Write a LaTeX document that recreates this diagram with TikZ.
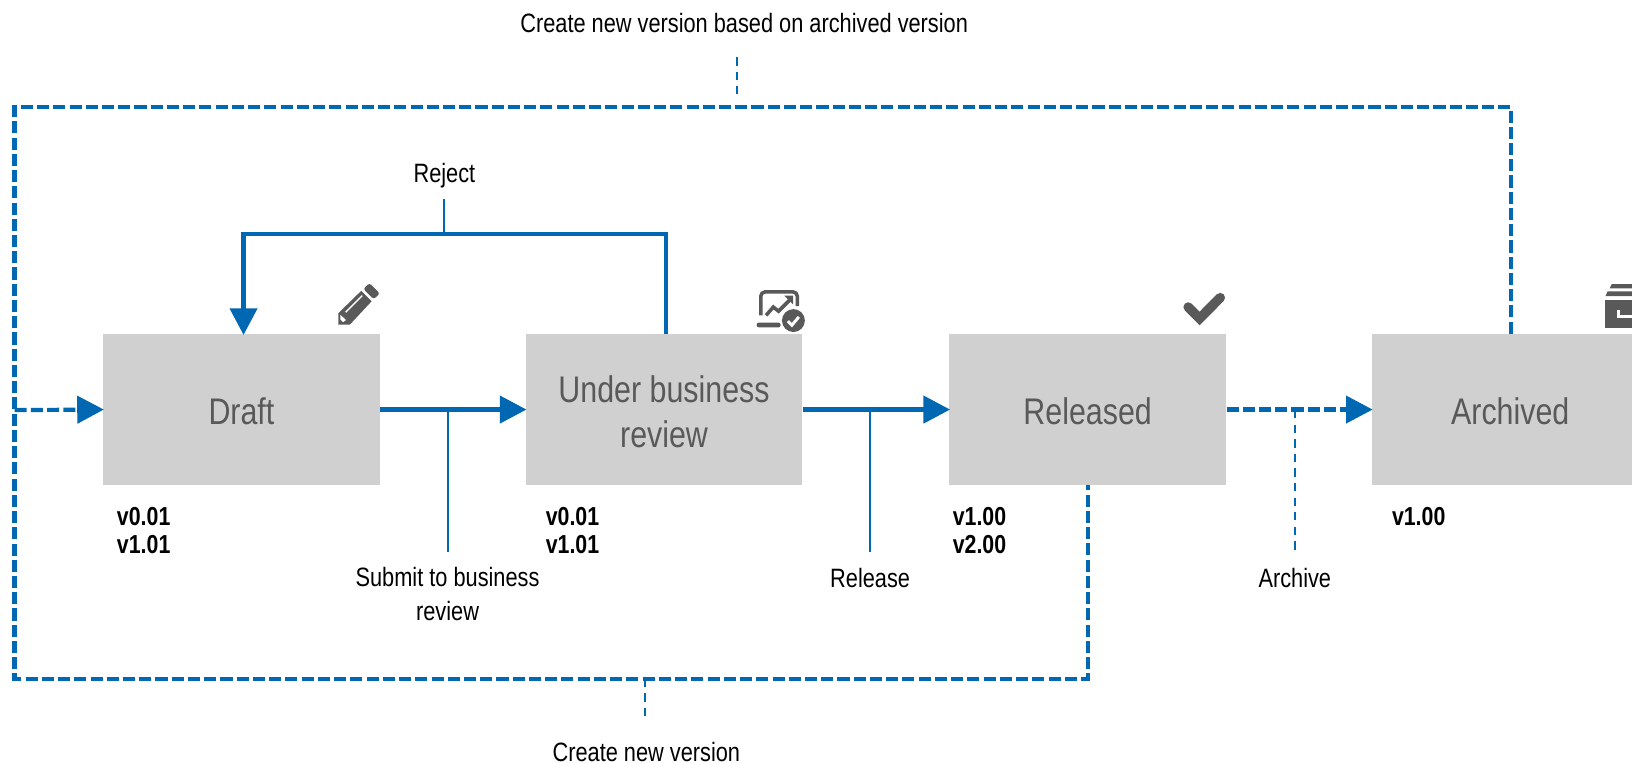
\documentclass[tikz,border=0pt]{standalone}
\usepackage{fontspec}
\setmainfont[FakeStretch=0.82]{Liberation Sans}
\usetikzlibrary{arrows.meta,calc}
\definecolor{bl}{HTML}{0067B2}
\definecolor{bx}{HTML}{D0D0D0}
\definecolor{tx}{HTML}{595959}
\newcommand{\dnl}{\rule{0pt}{15pt}}
\tikzset{
 statebox/.style={fill=bx,draw=none,minimum width=133pt,minimum height=72.5pt,inner sep=0pt,align=center,text=tx,font=\fontsize{17.8}{21.5}\selectfont},
 flow/.style={draw=bl,line width=2pt,shorten >=-0.6pt,-{Triangle[length=12.8pt,width=13pt]}},
 flowd/.style={flow,dash pattern=on 5.8pt off 2pt},
 loopd/.style={draw=bl,line width=2pt,dash pattern=on 5.8pt off 2pt},
 lead/.style={draw=bl,line width=1pt},
 leadd/.style={lead,dash pattern=on 4pt off 3pt},
 lab/.style={font=\fontsize{12.75}{16}\selectfont,align=center,text=black,inner sep=0pt},
 ver/.style={font=\fontsize{12.5}{13.7}\selectfont\bfseries,align=left,text=black,inner sep=0pt,anchor=north west},
 icon/.style={fill=tx,draw=none}
}
\begin{document}
\begin{tikzpicture}[x=0.5pt,y=-0.5pt]
\useasboundingbox[clip] (0,0) rectangle (1568,733);
% boxes
\node[statebox] (draft) at (232,393.5) {\dnl Draft};
\node[statebox] (under) at (638,393.5) {\dnl Under business\\review};
\node[statebox] (rel) at (1045,393.5) {\dnl Released};
\node[statebox] (arch) at (1451,393.5) {\dnl Archived};
% labels
\node[lab] (ltop) at (715,22) {Create new version based on archived version};
\node[lab] (lrej) at (427,169) {Reject};
\node[lab,anchor=north] (lsub) at (430,545) {Submit to business\\review};
\node[lab] (lrel) at (836,555) {Release};
\node[lab] (larc) at (1244,555) {Archive};
\node[lab] (lnew) at (621,722.5) {Create new version};
\node[ver] (v1) at (112,487) {v0.01\\v1.01};
\node[ver] (v2) at (524,487) {v0.01\\v1.01};
\node[ver] (v3) at (915,487) {v1.00\\v2.00};
\node[ver] (v4) at (1337,487) {v1.00};
% loop corners
\coordinate (jl) at (14,394);
\coordinate (tl) at (14,103);
\coordinate (tr) at (1452,103);
\coordinate (bl1) at (14,652);
\coordinate (br) at (1045,652);
\coordinate (rejb) at (427,225);
\coordinate (rejt) at (427,191);
\coordinate (subj) at (430,394);
\coordinate (subb) at (430,530);
\coordinate (relj) at (836,394);
\coordinate (relb) at (836,530);
\coordinate (arcj) at (1244,394);
\coordinate (arcb) at (1244,530);
\coordinate (newj) at (620,652);
\coordinate (newb) at (620,692);
\coordinate (topa) at (708,55);
\coordinate (topb) at (708,90);
% connectors
\draw[flowd] (jl) -- (draft.west);
\draw[flow] (draft.east) -- (under.west);
\draw[flow] (under.east) -- (rel.west);
\draw[flowd] (rel.east) -- (arch.west);
\draw[flow] ([xshift=1pt]under.north) |- (rejb) -| ([xshift=1pt]draft.north);
\draw[lead] (rejb) -- (rejt);
\draw[lead] (subj) -- (subb);
\draw[lead] (relj) -- (relb);
\draw[leadd] (arcj) -- (arcb);
\draw[leadd] (newj) -- (newb);
\draw[leadd] (topa) -- (topb);
\draw[loopd] ([xshift=0.5pt]arch.north) -- (tr) -- (tl) -- (bl1) -- (br) -- (rel.south);
% pencil
\begin{scope}[shift={(325,272)}]
\fill[icon] (0,40) -- (0,29) -- (22,7.5) -- (32,17.5) -- (11,40) -- cycle;
\fill[icon,rounded corners=1.2pt] (24,5.5) -- (30,0) -- (40,10) -- (34,15.5) -- cycle;
\draw[white,line width=0.7pt] (7,28) -- (23,12);
\fill[white] (2,30.5) -- (7.5,35.5) -- (4.5,37.5) -- (2,35) -- cycle;
\end{scope}
% laptop + check
\begin{scope}[shift={(726,279)}]
\draw[tx,line width=1.7pt,rounded corners=2pt] (5,24) -- (5,1.5) -- (40,1.5) -- (40,15);
\draw[tx,line width=1.7pt] (10,24) -- (17,16) -- (22,20) -- (33,9);
\fill[tx] (36,5) -- (36,13.5) -- (27.5,5) -- cycle;
\fill[icon,rounded corners=1pt] (1,31) -- (24,31) -- (24,35.5) -- (1,35.5) -- cycle;
\fill[white] (36.3,29) circle (12.6);
\fill[tx] (36.3,29) circle (11);
\draw[white,line width=1.4pt] (31,29.5) -- (34.8,33.5) -- (41.5,25.5);
\end{scope}
% check
\begin{scope}[shift={(1137,281)}]
\draw[tx,line width=4.6pt,line cap=round] (4.6,14) -- (15.5,25) -- (35.4,5);
\end{scope}
% archive
\begin{scope}[shift={(1541,272)}]
\fill[icon] (7.5,1) -- (40,1) -- (40,5) -- (5.5,5) -- cycle;
\fill[icon] (3.5,8) -- (40,8) -- (40,12.5) -- (1.5,12.5) -- cycle;
\fill[icon] (1,16) -- (40,16) -- (40,43) -- (1,43) -- cycle;
\draw[white,line width=1.4pt] (14,26) -- (14,32) -- (30,32);
\end{scope}
\end{tikzpicture}
\end{document}
